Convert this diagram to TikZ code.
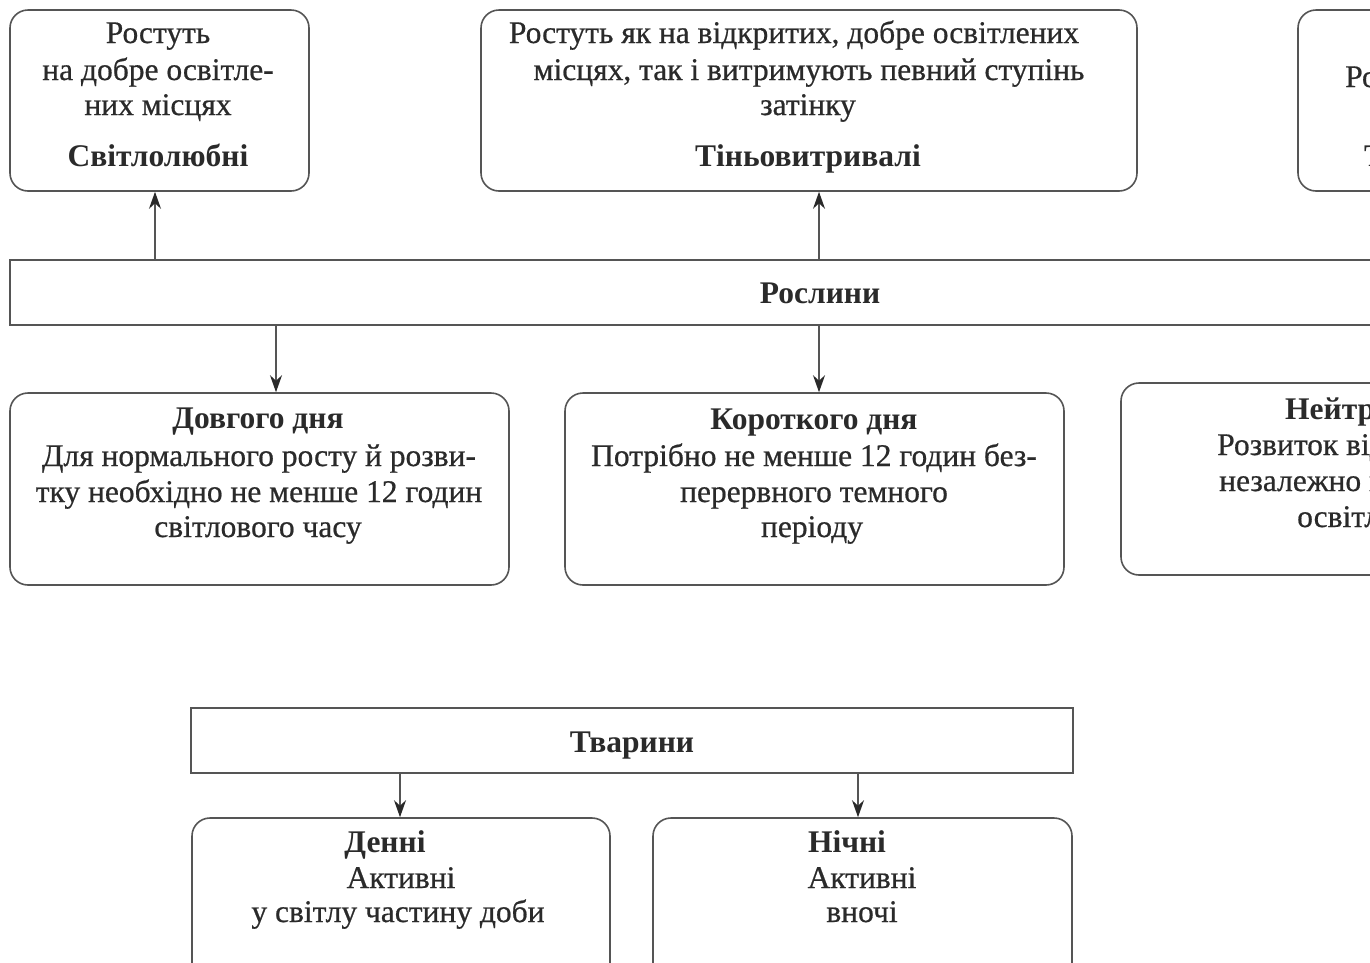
\documentclass[tikz,border=0pt]{standalone}
\usepackage{fontspec}
\setmainfont{Liberation Serif}
\newfontfamily\bodyfont[FakeBold=0.6]{Liberation Serif}
\usetikzlibrary{arrows.meta}
\definecolor{linec}{HTML}{555555}
\definecolor{tipc}{HTML}{2a2a2a}
\definecolor{textc}{HTML}{2a2a2a}
\begin{document}
\begin{tikzpicture}[x=1pt,y=-1pt,
  box/.style={draw=linec, line width=1.6pt, rounded corners=18pt, inner sep=0pt, fill=white},
  bar/.style={draw=linec, line width=1.8pt, inner sep=0pt},
  txt/.style={inner sep=0pt, anchor=base, text=textc, font=\fontsize{31.5}{36}\bodyfont},
  ttl/.style={inner sep=0pt, anchor=base, text=textc, font=\fontsize{31.5}{36}\selectfont\bfseries},
  arr/.style={draw=linec, line width=1.6pt, -{Stealth[length=17pt,width=12pt,color=tipc]}}]
\useasboundingbox (0,0) rectangle (1370,962);
\clip (0,0) rectangle (1370,962);
\fill[white] (0,0) rectangle (1370,962);

% boxes
\node[box, minimum width=299pt, minimum height=181pt] (b1) at (159.5,100.5) {};
\node[box, minimum width=656pt, minimum height=181pt] (b2) at (809,100.5) {};
\node[box, minimum width=402pt, minimum height=181pt] (b3) at (1499,100.5) {};
\node[bar, minimum width=1620pt, minimum height=65pt] (rosl) at (820,292.5) {};
\node[box, minimum width=499pt, minimum height=192pt] (b4) at (259.5,489) {};
\node[box, minimum width=499pt, minimum height=192pt] (b5) at (814.5,489) {};
\node[box, minimum width=499pt, minimum height=192pt] (b6) at (1370.5,479) {};
\node[bar, minimum width=882pt, minimum height=65pt] (tvar) at (632,740.5) {};
\node[box, minimum width=418pt, minimum height=192pt] (b7) at (401,914) {};
\node[box, minimum width=419pt, minimum height=192pt] (b8) at (862.5,914) {};

% bar labels
\node[ttl] (trosl) at (820,303) {Рослини};
\node[ttl] (ttvar) at (632,752) {Тварини};

% box1
\node[txt] (t11) at (158,43) {Ростуть};
\node[txt] (t12) at (158,80) {на добре освітле-};
\node[txt] (t13) at (158,115) {них місцях};
\node[ttl] (t14) at (158,166) {Світлолюбні};
% box2
\node[txt] (t21) at (794,43) {Ростуть як на відкритих, добре освітлених};
\node[txt] (t22) at (809,80) {місцях, так і витримують певний ступінь};
\node[txt] (t23) at (808,115) {затінку};
\node[ttl] (t24) at (808,166) {Тіньовитривалі};
% box3 (cut off at the right edge)
\node[txt, anchor=base west] (t31) at (1345,87) {Ростуть у затінку};
\node[ttl, anchor=base west] (t32) at (1364,166) {Тіньолюбні};
% box4
\node[ttl] (t41) at (258,428) {Довгого дня};
\node[txt] (t42) at (259,466) {Для нормального росту й розви-};
\node[txt] (t43) at (259,502) {тку необхідно не менше 12 годин};
\node[txt] (t44) at (258,537) {світлового часу};
% box5
\node[ttl] (t51) at (814,429) {Короткого дня};
\node[txt] (t52) at (814,466) {Потрібно не менше 12 годин без-};
\node[txt] (t53) at (814,502) {перервного темного};
\node[txt] (t54) at (812,537) {періоду};
% box6 (cut off at the right edge)
\node[ttl, anchor=base west] (t61) at (1285,419) {Нейтральні};
\node[txt, anchor=base west] (t62) at (1217,455) {Розвиток відбувається};
\node[txt, anchor=base west] (t63) at (1219,491) {незалежно від тривалості};
\node[txt, anchor=base west] (t64) at (1297,527) {освітлення};
% box7
\node[ttl] (t71) at (385,852) {Денні};
\node[txt] (t72) at (401,888) {Активні};
\node[txt] (t73) at (398,922) {у світлу частину доби};
% box8
\node[ttl] (t81) at (847,852) {Нічні};
\node[txt] (t82) at (862,888) {Активні};
\node[txt] (t83) at (862,922) {вночі};

% arrows
\coordinate (a1) at (155,260);
\coordinate (a2) at (819,260);
\coordinate (a4) at (276,325);
\coordinate (a5) at (819,325);
\coordinate (a7) at (400,773);
\coordinate (a8) at (858,773);
\draw[arr] (a1) -- (a1 |- b1.south);
\draw[arr] (a2) -- (a2 |- b2.south);
\draw[arr] (a4) -- (a4 |- b4.north);
\draw[arr] (a5) -- (a5 |- b5.north);
\draw[arr] (a7) -- (a7 |- b7.north);
\draw[arr] (a8) -- (a8 |- b8.north);
\end{tikzpicture}
\end{document}
